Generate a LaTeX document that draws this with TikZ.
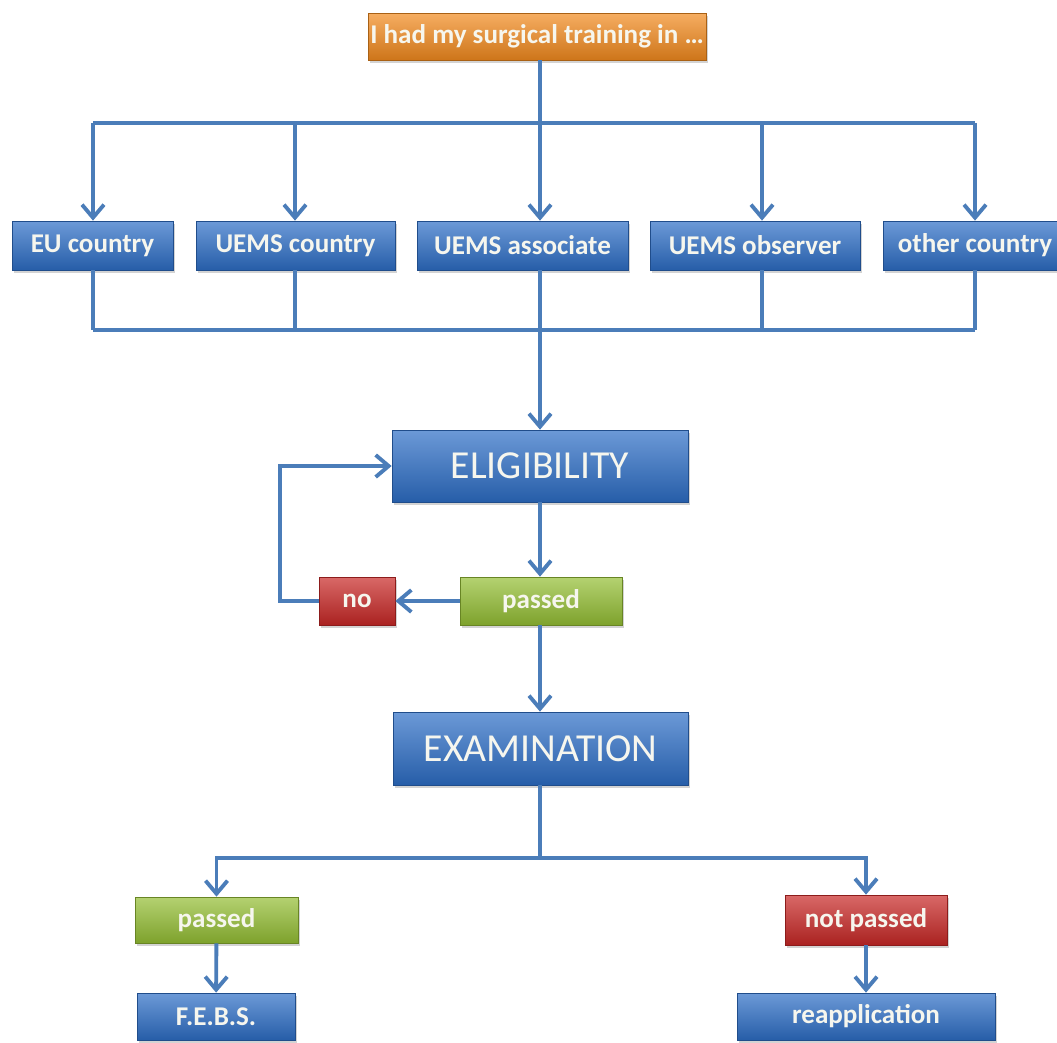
\documentclass[tikz,border=0pt]{standalone}
\usepackage{fontspec}
\setmainfont{Carlito}
\usetikzlibrary{arrows.meta,shadows}

\definecolor{boxblue}{RGB}{45,110,198}
\definecolor{boxorange}{RGB}{242,138,30}
\definecolor{boxgreen}{RGB}{148,190,52}
\definecolor{boxred}{RGB}{200,40,38}
\definecolor{linkblue}{RGB}{75,125,185}
\definecolor{boxtext}{RGB}{246,246,238}

\begin{document}
\begin{tikzpicture}[
	flow/.style={rectangle, draw=#1!70!black, line width=0.2pt,
		top color=#1!70!white, bottom color=#1!85!black, text=boxtext,
		inner sep=0pt, font=\fontsize{7.7}{9}\selectfont\bfseries,
		drop shadow={shadow xshift=0.02cm, shadow yshift=-0.03cm, opacity=0.35}},
	big/.style={font=\fontsize{11.3}{13}\selectfont},
	link/.style={draw=linkblue, line width=1.1pt},
	arr/.style={link, -{Straight Barb[length=0.13cm,width=0.22cm,line width=1.1pt]}}]

	\useasboundingbox (0,0) rectangle (10.57,-10.42);

	\node[flow=boxorange, minimum width=3.38cm, minimum height=0.47cm] (Root) at (5.37,-0.365) {I had my surgical training in \dots};

	\node[flow=boxblue, minimum width=1.61cm, minimum height=0.49cm] (EU) at (0.925,-2.455) {EU country};
	\node[flow=boxblue, minimum width=1.99cm, minimum height=0.49cm] (UC) at (2.955,-2.455) {UEMS country};
	\node[flow=boxblue, minimum width=2.11cm, minimum height=0.49cm] (UA) at (5.225,-2.455) {UEMS associate};
	\node[flow=boxblue, minimum width=2.10cm, minimum height=0.49cm] (UO) at (7.55,-2.455) {UEMS observer};
	\node[flow=boxblue, minimum width=1.84cm, minimum height=0.49cm] (OC) at (9.75,-2.455) {other country};

	\node[flow=boxblue, big, minimum width=2.96cm, minimum height=0.72cm] (Elig) at (5.40,-4.66) {ELIGIBILITY};
	\node[flow=boxgreen, minimum width=1.62cm, minimum height=0.48cm] (EligPass) at (5.41,-6.01) {passed};
	\node[flow=boxred, minimum width=0.76cm, minimum height=0.48cm] (EligNo) at (3.57,-6.01) {no};

	\node[flow=boxblue, big, minimum width=2.95cm, minimum height=0.73cm] (Exam) at (5.405,-7.485) {EXAMINATION};
	\node[flow=boxgreen, minimum width=1.63cm, minimum height=0.46cm] (ExamPass) at (2.165,-9.20) {passed};
	\node[flow=boxred, minimum width=1.62cm, minimum height=0.50cm] (ExamFail) at (8.66,-9.20) {not passed};
	\node[flow=boxblue, minimum width=1.58cm, minimum height=0.47cm] (FEBS) at (2.16,-10.165) {F.E.B.S.};
	\node[flow=boxblue, minimum width=2.58cm, minimum height=0.47cm] (Reapp) at (8.66,-10.165) {reapplication};

	\coordinate (split) at (5.40,-1.23);
	\coordinate (merge) at (5.40,-3.30);
	\coordinate (loop) at (2.80,-6.01);
	\coordinate (fork) at (5.40,-8.58);

	\draw[link] (Root.south -| split) -- (split);
	\foreach \n/\x in {EU/0.93, UC/2.95, UA/5.40, UO/7.62, OC/9.75} {
		\coordinate (x\n) at (\x,0);
		\draw[arr] (x\n |- split) -- (x\n |- \n.north);
		\draw[link] (x\n |- \n.south) -- (x\n |- merge);
	}
	\draw[link] (xEU |- split) -- (xOC |- split);
	\draw[link] (xEU |- merge) -- (xOC |- merge);
	\draw[arr] (merge) -- (merge |- Elig.north);

	\draw[arr] (Elig.south -| merge) -- (merge |- EligPass.north);
	\draw[arr] (EligPass.west) -- (EligNo.east);
	\draw[arr] (EligNo.west) -- (loop) |- (Elig.west);
	\draw[arr] (EligPass.south -| merge) -- (merge |- Exam.north);

	\draw[link] (Exam.south -| fork) -- (fork);
	\draw[arr] (fork) -| (ExamPass.north);
	\draw[arr] (fork) -| (ExamFail.north);
	\draw[arr] (ExamPass) -- (FEBS);
	\draw[arr] (ExamFail) -- (Reapp);

\end{tikzpicture}
\end{document}
